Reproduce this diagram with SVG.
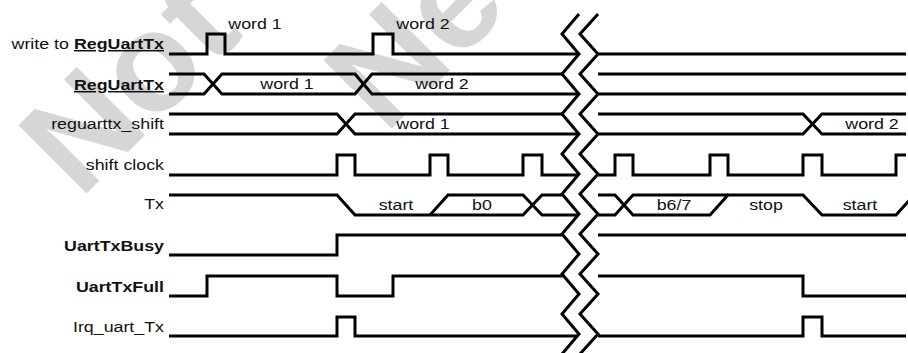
<svg xmlns="http://www.w3.org/2000/svg" width="908" height="353" viewBox="0 0 908 353">
<style>
.sig{fill:none;stroke:#000;stroke-width:3;stroke-linejoin:miter;stroke-linecap:butt}
.zz{fill:none;stroke:#000;stroke-width:3;stroke-linejoin:miter}
.lbl{font-family:"Liberation Sans",Arial,Helvetica,sans-serif;font-size:15.5px;fill:#111}
.end{text-anchor:end}
.mid{text-anchor:middle}
.b{font-weight:bold}
.wm{font-family:"Liberation Sans",Arial,sans-serif;font-weight:bold;font-size:140px;fill:#d6d6d6}
</style>
<rect width="908" height="353" fill="#fff"/>
<g id="watermark">
<text class="wm" transform="translate(80,200) rotate(-45)">Not</text>
<text class="wm" transform="translate(385,135) rotate(-45)">Ne</text>
</g>
<g id="labels">
<text class="lbl end" transform="translate(164,49) scale(1.15,1)">write to <tspan class="b" text-decoration="underline">RegUartTx</tspan></text>
<text class="lbl end b" text-decoration="underline" transform="translate(164,90) scale(1.15,1)">RegUartTx</text>
<text class="lbl end" transform="translate(164,129) scale(1.15,1)">reguarttx_shift</text>
<text class="lbl end" transform="translate(164,170) scale(1.15,1)">shift clock</text>
<text class="lbl end" transform="translate(164,209) scale(1.15,1)">Tx</text>
<text class="lbl end b" transform="translate(164,251) scale(1.15,1)">UartTxBusy</text>
<text class="lbl end b" transform="translate(164,292) scale(1.15,1)">UartTxFull</text>
<text class="lbl end" transform="translate(164,332) scale(1.15,1)">Irq_uart_Tx</text>
</g>
<g id="sig-write">
<path class="sig" d="M169,54 H207 V34 H225 V54 H373 V34 H393 V54 H578"/>
<path class="sig" d="M598,54 H906"/>
<text class="lbl mid" transform="translate(255,29) scale(1.15,1)">word 1</text>
<text class="lbl mid" transform="translate(423,29) scale(1.15,1)">word 2</text>
</g>
<g id="sig-reguarttx">
<path class="sig" d="M169,74 H204 L222,94 H355 L372,74 H562"/>
<path class="sig" d="M169,94 H204 L222,74 H355 L372,94 H579"/>
<path class="sig" d="M598,74 H906 M598,94 H906"/>
<text class="lbl mid" transform="translate(287,89) scale(1.15,1)">word 1</text>
<text class="lbl mid" transform="translate(442,89) scale(1.15,1)">word 2</text>
</g>
<g id="sig-shift">
<path class="sig" d="M169,114 H337 L355,134 H579"/>
<path class="sig" d="M169,134 H337 L355,114 H562"/>
<path class="sig" d="M598,114 H803 L822,134 H906"/>
<path class="sig" d="M598,134 H803 L822,114 H906"/>
<text class="lbl mid" transform="translate(423,129) scale(1.15,1)">word 1</text>
<text class="lbl mid" transform="translate(872,129) scale(1.15,1)">word 2</text>
</g>
<g id="sig-clock">
<path class="sig" d="M169,175 H337 V155 H355 V175 H430 V155 H448 V175 H523 V155 H542 V175 H578"/>
<path class="sig" d="M598,175 H615 V155 H633 V175 H710 V155 H728 V175 H803 V155 H822 V175 H896 V155 H906"/>
</g>
<g id="sig-tx">
<path class="sig" d="M169,195 H337 L355,215 H523 L542,195 H562"/>
<path class="sig" d="M430,215 L448,195 H523 L542,215 H578"/>
<path class="sig" d="M598,195 H615 L633,215 H710 L728,195 H803 L822,215 H896 L914,195"/>
<path class="sig" d="M598,215 H615 L633,195 H728"/>
<text class="lbl mid" transform="translate(396,210) scale(1.15,1)">start</text>
<text class="lbl mid" transform="translate(482,210) scale(1.15,1)">b0</text>
<text class="lbl mid" transform="translate(674,210) scale(1.15,1)">b6/7</text>
<text class="lbl mid" transform="translate(766,210) scale(1.15,1)">stop</text>
<text class="lbl mid" transform="translate(860,210) scale(1.15,1)">start</text>
</g>
<g id="sig-busy">
<path class="sig" d="M169,255 H337 V235 H562"/>
<path class="sig" d="M598,235 H906"/>
</g>
<g id="sig-full">
<path class="sig" d="M169,296 H207 V276 H337 V296 H393 V276 H563"/>
<path class="sig" d="M598,276 H803 V296 H906"/>
</g>
<g id="sig-irq">
<path class="sig" d="M169,336 H337 V317 H355 V336 H577"/>
<path class="sig" d="M598,336 H803 V317 H822 V336 H906"/>
</g>
<g id="connectors">
<polyline class="zz" points="579,14 562,34 579,54 562,74 579,94 562,114 579,134 562,154 579,174 562,194 579,214 562,234 579,254 562,274 579,294 562,314 579,334 562,354"/>
<polyline class="zz" points="598,14 580,34 598,54 580,74 598,94 580,114 598,134 580,154 598,174 580,194 598,214 580,234 598,254 580,274 598,294 580,314 598,334 580,354"/>
</g>
</svg>
